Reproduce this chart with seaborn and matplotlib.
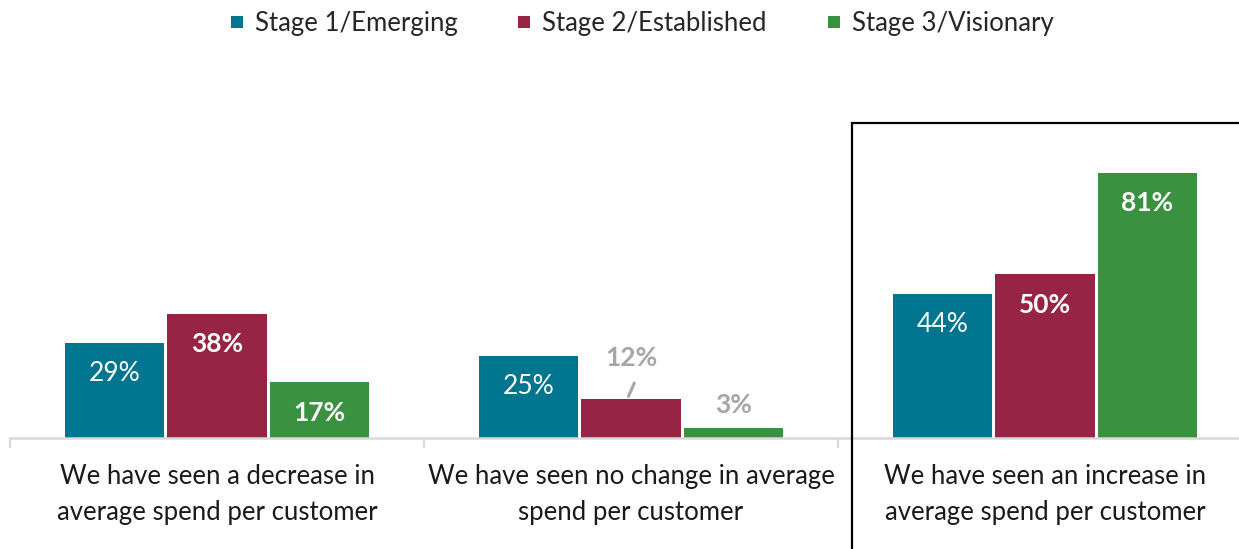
import matplotlib
matplotlib.use("Agg")
import matplotlib.pyplot as plt
import matplotlib.patches as mpatches
import seaborn as sns
import pandas as pd

# Survey results: change in average spend per customer, by maturity stage
categories = [
    "We have seen a decrease in\naverage spend per customer",
    "We have seen no change in average\nspend per customer",
    "We have seen an increase in\naverage spend per customer",
]
stages = ["Stage 1/Emerging", "Stage 2/Established", "Stage 3/Visionary"]
stage1 = [29, 25, 44]
stage2 = [38, 12, 50]
stage3 = [17, 3, 81]

colors = ["#00758F", "#982445", "#3A9140"]

sns.set_theme(style="white")
plt.rcParams["font.family"] = ["Lato", "DejaVu Sans"]

rows = []
for stage, vals in zip(stages, [stage1, stage2, stage3]):
    for cat, v in zip(categories, vals):
        rows.append({"category": cat, "stage": stage, "value": v})
df = pd.DataFrame(rows)

W, H = 1239, 549
fig = plt.figure(figsize=(W / 100, H / 100), dpi=100)
ax = fig.add_axes([10 / W, (H - 438) / H, (W - 10) / W, 315 / H])

sns.barplot(data=df, x="category", y="value", hue="stage", order=categories,
            hue_order=stages, palette=colors, width=0.74, gap=0.03,
            linewidth=0, saturation=1, ax=ax, legend=True)

ax.set_ylim(0, 96.3)
ax.set_xlim(-0.5, -0.5 + (W - 10) / 414)
ax.set_xlabel("")
ax.set_ylabel("")
ax.set_yticks([])
for side in ["top", "right", "left"]:
    ax.spines[side].set_visible(False)
ax.spines["bottom"].set_color("#D9D9D9")
ax.spines["bottom"].set_linewidth(1.8)

ax.set_xticks([0, 1, 2])
ax.set_xticklabels(categories, fontsize=18.5, color="#1a1a1a", linespacing=1.55)
ax.tick_params(axis="x", which="major", length=0, pad=19)
ax.set_xticks([-0.5, 0.5, 1.5], minor=True)
ax.tick_params(axis="x", which="minor", bottom=True, length=7.5, width=1.6,
               color="#D9D9D9", direction="out")

# Value labels: inside the bar when it is tall enough, grey above otherwise
for si, container in enumerate(ax.containers):
    weight = "normal" if si == 0 else "bold"
    for bar in container:
        v = bar.get_height()
        xc = bar.get_x() + bar.get_width() / 2
        text = f"{v:.0f}%"
        if v >= 15:
            ax.text(xc, v - 9.3, text, ha="center", va="center",
                    color="white", fontsize=19, fontweight=weight)
        elif v >= 10:
            ax.annotate(text, xy=(xc, v), xytext=(0, 21),
                        textcoords="offset points", ha="center", va="bottom",
                        color="#A6A6A6", fontsize=19, fontweight="bold")
            ax.annotate("", xy=(xc - 0.006, v + 0.7), xytext=(xc + 0.008, v + 4.8),
                        arrowprops=dict(arrowstyle="-", color="#A6A6A6", lw=2.2,
                                        shrinkA=0, shrinkB=0))
        else:
            ax.annotate(text, xy=(xc, v), xytext=(0, 8),
                        textcoords="offset points", ha="center", va="bottom",
                        color="#A6A6A6", fontsize=19, fontweight="bold")

# Legend across the top
ax.legend_.remove()
sq = [plt.Line2D([], [], marker="s", linestyle="", markersize=8,
                 markerfacecolor=c, markeredgewidth=0) for c in colors]
fig.legend(sq, stages, loc="center", bbox_to_anchor=(640 / W, 1 - 23 / H),
           ncol=3, frameon=False, fontsize=18.5, handletextpad=0.3,
           columnspacing=2.2, handlelength=0.8)

# Highlight frame around the increase category
fig.patches.append(mpatches.Rectangle((852 / W, -0.05), 0.4, (H - 123) / H + 0.05,
                                      transform=fig.transFigure, fill=False,
                                      edgecolor="black", linewidth=1.6,
                                      clip_on=False))

fig.savefig("out.png", dpi=100)
